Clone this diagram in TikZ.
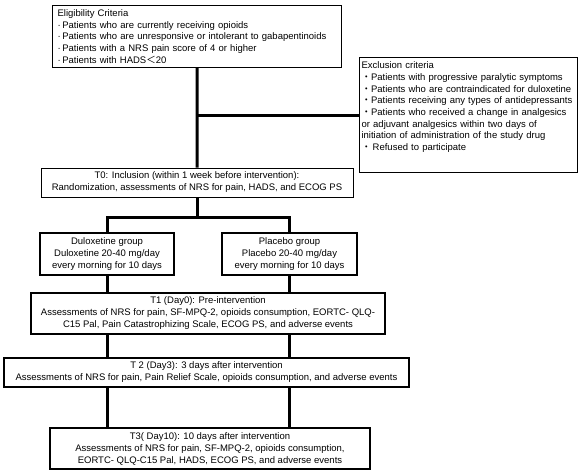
\documentclass[tikz,border=0pt]{standalone}
\usepackage{fontspec}
\setmainfont{Liberation Sans}
\newfontfamily\cjkfont{Noto Sans CJK JP}
\usetikzlibrary{positioning}

\newcommand{\bul}{·\,}
\newcommand{\wbul}{{\cjkfont ・}}

\begin{document}
\begin{tikzpicture}[
            x=1pt, y=-1pt,
            font=\fontsize{9.5}{12}\selectfont,
            % Estilo das caixas de texto
            box/.style={
                draw=black,
                fill=white,
                rectangle,
                line width=1.2pt,
                align=center,
                inner sep=2pt
            },
            % Caixas com listas de criterios
            listbox/.style={
                box,
                align=left,
                anchor=north west,
                inner ysep=3pt,
                font=\fontsize{9.5}{11.7}\selectfont
            },
            % Estilo das linhas de ligacao
            link/.style={
                draw=black,
                line width=3pt
            }
        ]
            \useasboundingbox (0,0) rectangle (578,472);

            % Criterios de elegibilidade e exclusao
            \node [listbox, inner xsep=5pt, text width=279pt, minimum height=62pt] (elig) at (52,5)
                {Eligibility Criteria\\
                 \bul Patients who are currently receiving opioids\\
                 \bul Patients who are unresponsive or intolerant to gabapentinoids\\
                 \bul Patients with a NRS pain score of 4 or higher\\
                 \bul Patients with HADS{\cjkfont ＜}20};
            \node [listbox, inner xsep=2pt, text width=214pt, minimum height=115pt] (excl) at (359,57)
                {Exclusion criteria\\
                 \wbul Patients with progressive paralytic symptoms\\
                 \wbul Patients who are contraindicated for duloxetine\\
                 \wbul Patients receiving any types of antidepressants\\
                 \wbul Patients who received a change in analgesics\\
                 or adjuvant analgesics within two days of\\
                 initiation of administration of the study drug\\
                 \wbul\,Refused to participate\\[6pt]\mbox{}};

            % Inclusao e grupos
            \node [box, line width=1pt, minimum width=312pt, minimum height=29pt] (t0) at (197,182.5)
                {T0: Inclusion (within 1 week before intervention):\\
                 Randomization, assessments of NRS for pain, HADS, and ECOG PS};
            \node [box, minimum width=134pt, minimum height=42pt] (dul) at (107,254)
                {Duloxetine group\\ Duloxetine 20-40 mg/day\\ every morning for 10 days};
            \node [box, minimum width=135pt, minimum height=42pt] (pla) at (289.5,254)
                {Placebo group\\ Placebo 20-40 mg/day\\ every morning for 10 days};

            % Avaliacoes
            \node [box, minimum width=354pt, minimum height=41pt] (t1) at (208,313.5)
                {T1 (Day0): Pre-intervention\\
                 Assessments of NRS for pain, SF-MPQ-2, opioids consumption, EORTC- QLQ-\\
                 C15 Pal, Pain Catastrophizing Scale, ECOG PS, and adverse events};
            \node [box, minimum width=405pt, minimum height=29pt] (t2) at (206.5,372.5)
                {T 2 (Day3): 3 days after intervention\\
                 Assessments of NRS for pain, Pain Relief Scale, opioids consumption, and adverse events};
            \node [box, minimum width=320pt, minimum height=41pt] (t3) at (210,448.5)
                {T3( Day10): 10 days after intervention\\
                 Assessments of NRS for pain, SF-MPQ-2, opioids consumption,\\
                 EORTC- QLQ-C15 Pal, HADS, ECOG PS, and adverse events};

            % Linhas de ligacao
            \coordinate (split) at (197,217);
            \draw [link] (elig.south) -- (t0.north);
            \draw [link] (elig.south |- excl.west) -- (excl.west);
            \draw [link] (t0.south) -- (split);
            \draw [link] (dul.north) |- (split) -| (pla.north);
            \draw [link] (dul.south) -- (dul.south |- t1.north);
            \draw [link] (pla.south) -- (pla.south |- t1.north);
            \foreach \a/\b in {t1/t2, t2/t3} {
                \draw [link] (dul.south |- \a.south) -- (dul.south |- \b.north);
                \draw [link] (pla.south |- \a.south) -- (pla.south |- \b.north);
            }

        \end{tikzpicture}
\end{document}
